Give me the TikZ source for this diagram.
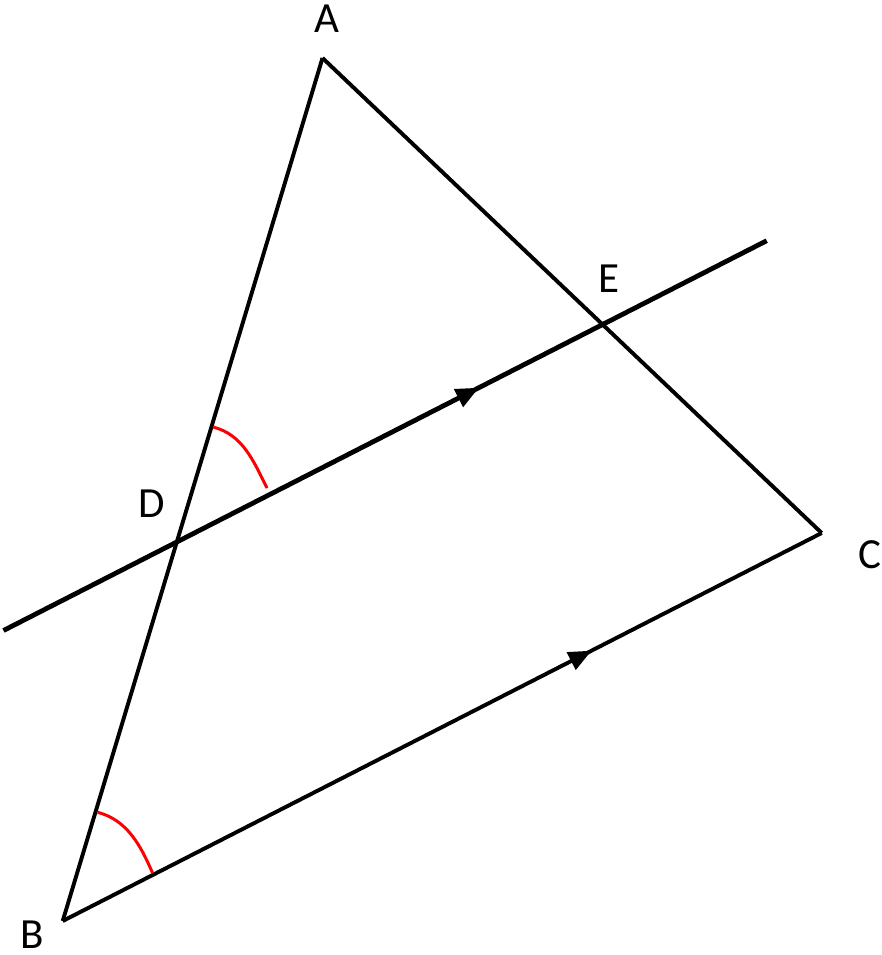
\documentclass[tikz,border=0pt]{standalone}
\usepackage{fontspec}
\setmainfont{Carlito}
\usetikzlibrary{arrows.meta,decorations.markings}
\begin{document}
\begin{tikzpicture}[x=1pt,y=-1pt,
  seg/.style={line width=3.9pt, line join=miter},
  par/.style={line width=4.8pt},
  anglemark/.style={red, line width=3pt},
  lbl/.style={font=\fontsize{43}{43}\selectfont, inner sep=0pt},
  midarrow/.style={postaction=decorate, decoration={markings,
     mark=at position #1 with {\arrow{Triangle[length=23pt,width=19pt]}}}}]
\useasboundingbox (0,0) rectangle (882,955);
\coordinate (A) at (322.5,58);
\coordinate (B) at (62.7,921);
\coordinate (C) at (821.7,533);
\coordinate (D) at (176.7,542.7);
\coordinate (E) at (601,322);
\coordinate (L) at (3.5,630.5);
\coordinate (R) at (766.7,240.7);
% triangle
\draw[seg] (A) -- (B);
\draw[seg, midarrow=0.697] (B) -- (C);
\draw[seg] (C) -- (A);
% parallel line through D and E
\draw[par, midarrow=0.623] (L) -- (R);
% angle marks
\coordinate (d1) at (213,427);
\coordinate (d2) at (267,488);
\draw[anglemark] (d1) .. controls (242.5,434.5) and (253,460) .. (d2);
\coordinate (b1) at (97.7,812.3);
\coordinate (b2) at (152.7,873.3);
\draw[anglemark] (b1) .. controls (127,820) and (140.5,845) .. (b2);
% labels
\node[lbl] (lA) at (326.5,19) {A};
\node[lbl] (lB) at (32,935) {B};
\node[lbl] (lC) at (870,555) {C};
\node[lbl] (lD) at (151.5,504) {D};
\node[lbl] (lE) at (608.5,279) {E};
\end{tikzpicture}
\end{document}
